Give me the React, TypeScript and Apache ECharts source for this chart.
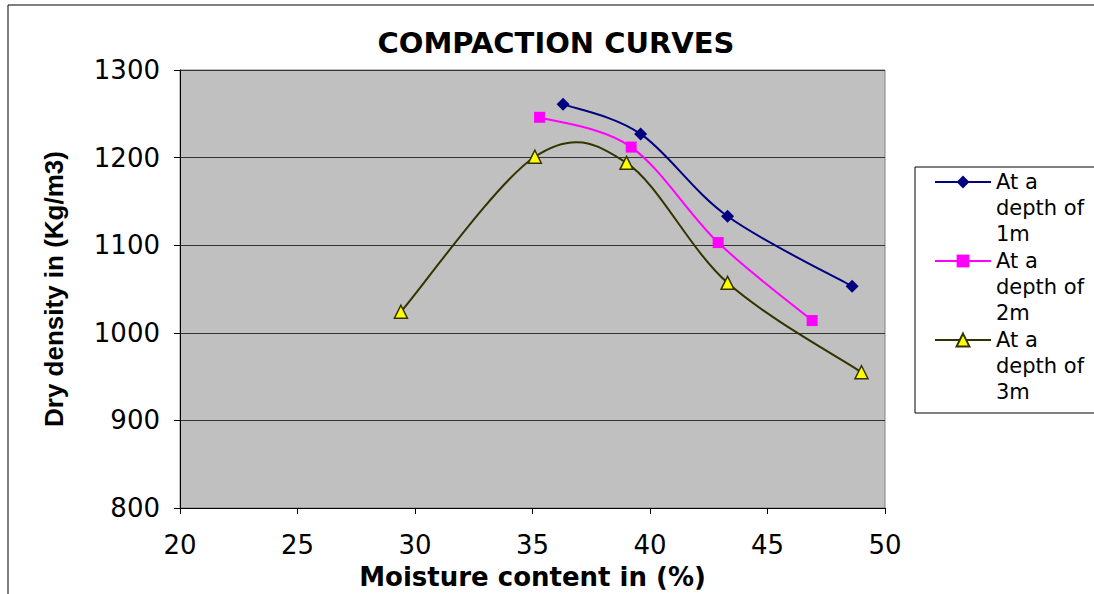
import React, { useEffect, useRef } from "react";
import * as echarts from "echarts";

const seriesNames = ["At a depth of 1m", "At a depth of 2m", "At a depth of 3m"];
const seriesColors = ["#000080", "#FF00FF", "#333300"];
const depth1m: [number, number][] = [
  [36.3, 1261],
  [39.6, 1227],
  [43.3, 1133],
  [48.6, 1053],
];
const depth2m: [number, number][] = [
  [35.3, 1246],
  [39.2, 1212],
  [42.9, 1103],
  [46.9, 1014],
];
const depth3m: [number, number][] = [
  [29.4, 1024],
  [35.1, 1201],
  [39.0, 1194],
  [43.3, 1057],
  [49.0, 955],
];
const xTicks = { min: 20, max: 50, interval: 5 };
const yTicks = { min: 800, max: 1300, interval: 100 };

const FONT = "DejaVu Sans";

// Excel-like smoothed curve (Catmull-Rom style Bezier) drawn through the chart's scales
function curveSeries(id: string, data: [number, number][], color: string) {
  return {
    id,
    name: id,
    type: "custom",
    coordinateSystem: "cartesian2d",
    data,
    z: 1,
    silent: true,
    renderItem: (params: any, api: any) => {
      if (params.dataIndex !== 0) return null;
      const p = data.map((d) => api.coord(d));
      const n = p.length;
      let d = `M${p[0][0]},${p[0][1]}`;
      for (let i = 0; i < n - 1; i++) {
        const p0 = p[Math.max(i - 1, 0)];
        const p1 = p[i];
        const p2 = p[i + 1];
        const p3 = p[Math.min(i + 2, n - 1)];
        const c1x = p1[0] + (p2[0] - p0[0]) / 6;
        const c1y = p1[1] + (p2[1] - p0[1]) / 6;
        const c2x = p2[0] - (p3[0] - p1[0]) / 6;
        const c2y = p2[1] - (p3[1] - p1[1]) / 6;
        d += ` C${c1x},${c1y} ${c2x},${c2y} ${p2[0]},${p2[1]}`;
      }
      return {
        type: "path",
        shape: { pathData: d },
        style: { fill: "none", stroke: color, lineWidth: 2 },
      };
    },
  };
}

export default function App() {
  const ref = useRef<HTMLDivElement>(null);
  useEffect(() => {
    if (!ref.current) return;
    const chart = echarts.init(ref.current, null, { renderer: "svg" });
    chart.setOption({
      animation: false,
      backgroundColor: "#ffffff",
      title: {
        text: "COMPACTION CURVES",
        left: 551,
        top: 23,
        textAlign: "center",
        textStyle: { fontFamily: FONT, fontWeight: "bold", fontSize: 29, color: "#000" },
      },
      grid: {
        left: 180,
        right: 209,
        top: 70,
        bottom: 86,
        containLabel: false,
        outerBoundsMode: "none",
        show: true,
        backgroundColor: "#C0C0C0",
        borderColor: "#808080",
        borderWidth: 1,
      },
      xAxis: {
        type: "value",
        min: xTicks.min,
        max: xTicks.max,
        interval: xTicks.interval,
        name: "Moisture content in (%)",
        nameLocation: "middle",
        nameGap: 56,
        nameMoveOverlap: false,
        nameTextStyle: {
          fontFamily: FONT,
          fontWeight: "bold",
          fontSize: 26,
          color: "#000",
        },
        axisLine: { show: true, lineStyle: { color: "#000", width: 1 } },
        axisTick: { show: true, inside: false, length: 6, lineStyle: { color: "#000" } },
        axisLabel: { margin: 24, fontFamily: FONT, fontSize: 26, color: "#000" },
        splitLine: { show: false },
      },
      yAxis: {
        type: "value",
        min: yTicks.min,
        max: yTicks.max,
        interval: yTicks.interval,
        name: "Dry density in (Kg/m3)",
        nameLocation: "middle",
        nameGap: 113,
        nameTextStyle: { fontFamily: "Liberation Sans", fontWeight: "bold", fontSize: 26, color: "#000" },
        axisLine: { show: true, lineStyle: { color: "#000", width: 1 } },
        axisTick: { show: true, inside: false, length: 6, lineStyle: { color: "#000" } },
        axisLabel: {
          margin: 20,
          fontFamily: FONT,
          fontSize: 26,
          color: "#000",
          formatter: (v: number) => String(v),
        },
        splitLine: { show: true, lineStyle: { color: "#333333", width: 1 } },
      },
      legend: {
        orient: "vertical",
        left: 934,
        top: 117,
        padding: 0,
        itemGap: -51,
        itemWidth: 56,
        itemHeight: 16,
        data: seriesNames.map((name, i) => ({
          name,
          lineStyle: { color: seriesColors[i], width: 2, opacity: 1 },
        })),
        formatter: (name: string) => "\n\n" + name.replace("At a depth of ", "At a\ndepth of\n"),
        textStyle: {
          fontFamily: FONT,
          fontSize: 21,
          lineHeight: 26,
          color: "#000",
        },
      },
      graphic: [
        {
          type: "rect",
          shape: { x: 8, y: 5, width: 1200, height: 700 },
          style: { fill: "none", stroke: "#000", lineWidth: 1 },
          silent: true,
          z: -1,
        },
        {
          type: "rect",
          shape: { x: 915, y: 167, width: 300, height: 246 },
          style: { fill: "none", stroke: "#000", lineWidth: 1 },
          silent: true,
        },
      ],
      series: [
        curveSeries("curve1", depth1m, seriesColors[0]),
        curveSeries("curve2", depth2m, seriesColors[1]),
        curveSeries("curve3", depth3m, seriesColors[2]),
        {
          name: seriesNames[0],
          type: "line",
          data: depth1m,
          z: 3,
          symbol: "diamond",
          symbolSize: 13,
          lineStyle: { color: seriesColors[0], width: 2, opacity: 0 },
          itemStyle: { color: "#000080" },
        },
        {
          name: seriesNames[1],
          type: "line",
          data: depth2m,
          z: 3,
          symbol: "rect",
          symbolSize: 11,
          lineStyle: { color: seriesColors[1], width: 2, opacity: 0 },
          itemStyle: { color: "#FF00FF" },
        },
        {
          name: seriesNames[2],
          type: "line",
          data: depth3m,
          z: 3,
          symbol: "triangle",
          symbolSize: 13,
          lineStyle: { color: seriesColors[2], width: 2, opacity: 0 },
          itemStyle: { color: "#FFFF00", borderColor: "#333300", borderWidth: 1.5 },
        },
      ],
    });
    return () => chart.dispose();
  }, []);
  return (
    <div
      ref={ref}
      style={{ position: "absolute", left: 0, top: 0, width: 1094, height: 594 }}
    />
  );
}
